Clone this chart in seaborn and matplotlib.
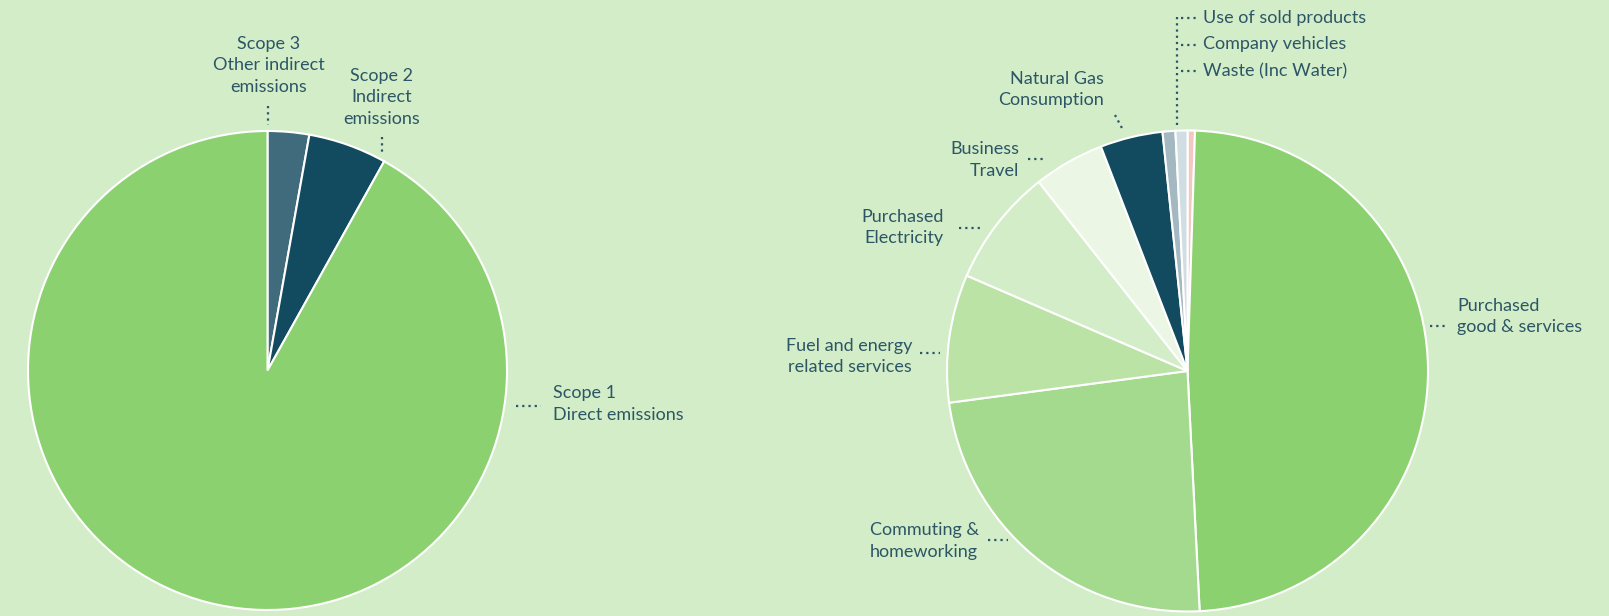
import matplotlib
matplotlib.use("Agg")
import matplotlib.pyplot as plt
from matplotlib.lines import Line2D
import seaborn as sns

# scope split (share of total, %)
scope_labels = ["Scope 3\nOther indirect\nemissions", "Scope 2\nIndirect\nemissions", "Scope 1\nDirect emissions"]
scope_values = [2.8, 5.3, 91.9]
scope_colors = ["#3f6b7d", "#124a5f", "#8bd16f"]

# breakdown by source (%), clockwise from 12 o'clock
source_labels = ["Waste (Inc Water)", "Purchased\ngood & services", "Commuting &\nhomeworking",
                 "Fuel and energy\nrelated services", "Purchased\nElectricity", "Business\nTravel",
                 "Natural Gas\nConsumption", "Use of sold products", "Company vehicles"]
source_values = [0.5, 48.7, 23.7, 8.6, 7.9, 4.75, 4.2, 0.86, 0.8]
source_colors = ["#f2c9c2", "#8bd16f", "#a3da8d", "#bbe3a6", "#d4edc9", "#ebf6e4",
                 "#124a5f", "#a3b8c0", "#d0dde2"]

BG = "#d3edc8"
TXT = "#2c5666"
W, H = 1609, 616

sns.set_style("white")
plt.rcParams["font.family"] = ["Lato", "DejaVu Sans"]

fig = plt.figure(figsize=(W / 100, H / 100), dpi=100, facecolor=BG)


def pie_axes(cx, cy, r):
    ax = fig.add_axes([(cx - r) / W, (H - cy - r) / H, 2 * r / W, 2 * r / H])
    ax.set_facecolor(BG)
    return ax


def finish(ax):
    ax.set_xlim(-1, 1)
    ax.set_ylim(-1, 1)
    ax.axis("off")


def label(x, y, text, ha="left", gap=21.5):
    for i, line in enumerate(text.split("\n")):
        fig.text(x / W, 1 - (y + i * gap) / H, line, ha=ha, va="center",
                 fontsize=13, color=TXT)


def dots(xs, ys):
    fig.add_artist(Line2D([x / W for x in xs], [1 - y / H for y in ys],
                          color=TXT, lw=1.6, linestyle=(0, (1, 1.8))))


ax1 = pie_axes(267.5, 370.5, 239.5)
ax1.pie(scope_values, colors=scope_colors, startangle=90, counterclock=False, radius=1,
        wedgeprops=dict(edgecolor="white", linewidth=1.5))
finish(ax1)

ax2 = pie_axes(1187.5, 371, 240.5)
ax2.pie(source_values, colors=source_colors, startangle=90, counterclock=False, radius=1,
        wedgeprops=dict(edgecolor="white", linewidth=1.5))
finish(ax2)

# left chart labels
label(269, 44, scope_labels[0], ha="center")
dots([268, 268], [106, 125])
label(382, 76, scope_labels[1], ha="center")
dots([382, 382], [137, 154])
label(553, 393, scope_labels[2])
dots([516, 541], [406, 406])

# right chart labels
label(1457, 306, source_labels[1])
dots([1430, 1447], [326, 326])
label(870, 530, source_labels[2])
dots([988, 1008], [540, 540])
label(912, 346, source_labels[3], ha="right")
dots([920, 940], [353, 353])
label(944, 217, source_labels[4], ha="right")
dots([959, 980], [228, 228])
label(1019, 149, source_labels[5], ha="right")
dots([1028, 1045], [159, 159])
label(1104, 79, source_labels[6], ha="right")
dots([1115, 1123], [115, 130])

dots([1177, 1177], [17, 127])
for yy, name in zip([18, 44.5, 71], [source_labels[7], source_labels[8], source_labels[0]]):
    dots([1181, 1198], [yy, yy])
    label(1203, yy, name)

fig.savefig("out.png", dpi=100, facecolor=BG)
